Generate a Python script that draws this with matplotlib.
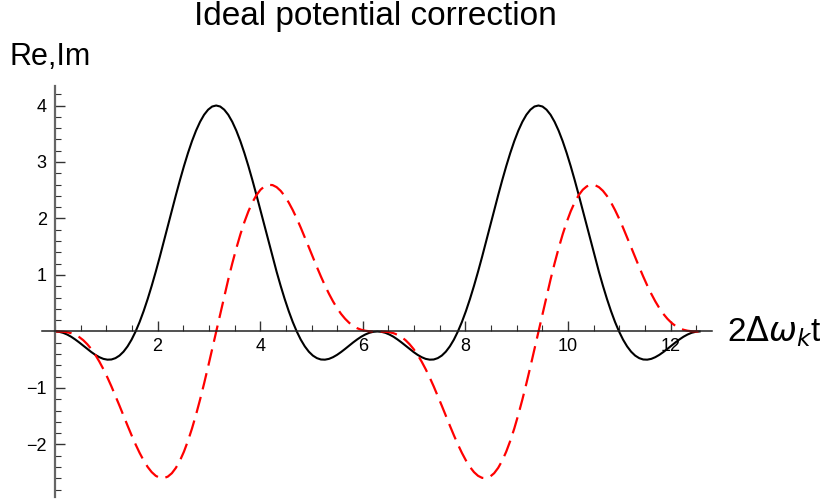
import numpy as np
import matplotlib
matplotlib.use("Agg")
import matplotlib.pyplot as plt
from matplotlib.ticker import MultipleLocator

plt.rcParams['font.family'] = ['Liberation Sans', 'DejaVu Sans']

# sample positions over two periods (0 .. 4*pi), 161 samples
t = np.linspace(0, 4 * np.pi, 161)

# black solid curve (Re)
re_vals = [
    0, -0.006, -0.024, -0.054, -0.093, -0.141, -0.194, -0.251, -0.309, -0.364,
    -0.414, -0.455, -0.485, -0.499, -0.496, -0.472, -0.427, -0.358, -0.264, -0.145,
    0, 0.169, 0.362, 0.576, 0.809, 1.058, 1.320, 1.591, 1.867, 2.142,
    2.414, 2.677, 2.927, 3.159, 3.370, 3.555, 3.711, 3.836, 3.926, 3.982,
    4,
    3.982, 3.926, 3.836, 3.711, 3.555, 3.370, 3.159, 2.927, 2.677, 2.414,
    2.142, 1.867, 1.591, 1.320, 1.058, 0.809, 0.576, 0.362, 0.169, 0,
    -0.145, -0.264, -0.358, -0.427, -0.472, -0.496, -0.499, -0.485, -0.455, -0.414,
    -0.364, -0.309, -0.251, -0.194, -0.141, -0.093, -0.054, -0.024, -0.006, 0,
    -0.006, -0.024, -0.054, -0.093, -0.141, -0.194, -0.251, -0.309, -0.364,
    -0.414, -0.455, -0.485, -0.499, -0.496, -0.472, -0.427, -0.358, -0.264, -0.145,
    0, 0.169, 0.362, 0.576, 0.809, 1.058, 1.320, 1.591, 1.867, 2.142,
    2.414, 2.677, 2.927, 3.159, 3.370, 3.555, 3.711, 3.836, 3.926, 3.982,
    4,
    3.982, 3.926, 3.836, 3.711, 3.555, 3.370, 3.159, 2.927, 2.677, 2.414,
    2.142, 1.867, 1.591, 1.320, 1.058, 0.809, 0.576, 0.362, 0.169, 0,
    -0.145, -0.264, -0.358, -0.427, -0.472, -0.496, -0.499, -0.485, -0.455, -0.414,
    -0.364, -0.309, -0.251, -0.194, -0.141, -0.093, -0.054, -0.024, -0.006, 0,
]

# red dashed curve (Im)
im_vals = [
    0, -0.001, -0.004, -0.013, -0.030, -0.058, -0.099, -0.154, -0.225, -0.311,
    -0.414, -0.533, -0.667, -0.814, -0.973, -1.141, -1.314, -1.491, -1.666, -1.837,
    -2, -2.150, -2.284, -2.399, -2.490, -2.555, -2.591, -2.596, -2.569, -2.509,
    -2.414, -2.287, -2.127, -1.936, -1.717, -1.472, -1.206, -0.921, -0.622, -0.313,
    0,
    0.313, 0.622, 0.921, 1.206, 1.472, 1.717, 1.936, 2.127, 2.287, 2.414,
    2.509, 2.569, 2.596, 2.591, 2.555, 2.490, 2.399, 2.284, 2.150, 2,
    1.837, 1.666, 1.491, 1.314, 1.141, 0.973, 0.814, 0.667, 0.533, 0.414,
    0.311, 0.225, 0.154, 0.099, 0.058, 0.030, 0.013, 0.004, 0.001, 0,
    -0.001, -0.004, -0.013, -0.030, -0.058, -0.099, -0.154, -0.225, -0.311,
    -0.414, -0.533, -0.667, -0.814, -0.973, -1.141, -1.314, -1.491, -1.666, -1.837,
    -2, -2.150, -2.284, -2.399, -2.490, -2.555, -2.591, -2.596, -2.569, -2.509,
    -2.414, -2.287, -2.127, -1.936, -1.717, -1.472, -1.206, -0.921, -0.622, -0.313,
    0,
    0.313, 0.622, 0.921, 1.206, 1.472, 1.717, 1.936, 2.127, 2.287, 2.414,
    2.509, 2.569, 2.596, 2.591, 2.555, 2.490, 2.399, 2.284, 2.150, 2,
    1.837, 1.666, 1.491, 1.314, 1.141, 0.973, 0.814, 0.667, 0.533, 0.414,
    0.311, 0.225, 0.154, 0.099, 0.058, 0.030, 0.013, 0.004, 0.001, 0,
]

xticks = [2, 4, 6, 8, 10, 12]
yticks = [-2, -1, 1, 2, 3, 4]
ytick_labels = ['\u22122', '\u22121', '1', '2', '3', '4']

fig = plt.figure(figsize=(8.26, 5.04), dpi=100)
ax = fig.add_axes([0.0511, 0.0139, 0.8104, 0.816])

ax.plot(t, re_vals, color='black', lw=1.5)
ax.plot(t, im_vals, color='red', lw=1.6, dashes=(7.5, 3.5))

ax.set_xlim(-0.25, 12.8)
ax.set_ylim(-2.93, 4.35)

for side in ['top', 'right']:
    ax.spines[side].set_visible(False)
ax.spines['left'].set_position(('data', 0))
ax.spines['bottom'].set_position(('data', 0))
ax.spines['left'].set_color('#666666')
ax.spines['bottom'].set_color('#222222')
ax.spines['left'].set_linewidth(1.6)
ax.spines['bottom'].set_linewidth(1.1)

ax.set_xticks(xticks)
ax.set_yticks(yticks)
ax.set_yticklabels(ytick_labels)
ax.xaxis.set_minor_locator(MultipleLocator(0.5))
ax.yaxis.set_minor_locator(MultipleLocator(0.2))
ax.tick_params(which='both', direction='in', colors='#333333', labelcolor='black',
               labelsize=13)
ax.tick_params(which='major', length=7, width=1)
ax.tick_params(which='minor', length=4, width=0.8)
ax.tick_params(axis='y', pad=6)
ax.tick_params(axis='x', pad=5)

fig.text(10 / 826, 0.871, 'Re,Im', fontsize=22, va='baseline', ha='left')
ax.text(13.1, 0, r'2$\Delta\omega_k$t', fontsize=24, va='center', ha='left',
        clip_on=False)
fig.text(375 / 826, 1 - 16 / 504, 'Ideal potential correction', fontsize=24,
         va='center', ha='center')

fig.savefig('out.png', dpi=100)
